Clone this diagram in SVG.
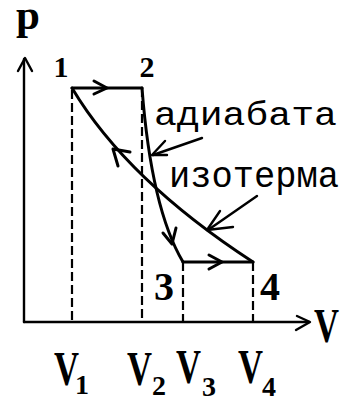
<svg xmlns="http://www.w3.org/2000/svg" width="344" height="401" viewBox="0 0 344 401">
<style>
.ln{fill:none;stroke:#000;stroke-width:2.4;stroke-linecap:round;stroke-linejoin:round}
.th{fill:none;stroke:#000;stroke-width:3;stroke-linecap:round;stroke-linejoin:round}
.ds{fill:none;stroke:#000;stroke-width:2.2;stroke-dasharray:9 4}
.ah{fill:none;stroke:#000;stroke-width:2.4;stroke-linecap:round;stroke-linejoin:round}
.lab{font-family:"Liberation Serif","DejaVu Serif",serif;font-weight:bold;fill:#000}
.ru{font-family:"Liberation Mono","DejaVu Sans Mono",monospace;fill:#000}
</style>
<rect width="344" height="401" fill="#fff"/>
<g id="axes">
  <line class="ln" x1="24" y1="322" x2="24" y2="59"/>
  <polyline class="ah" points="18,71 25,58 32,71"/>
  <line class="ln" x1="24" y1="322" x2="309" y2="322"/>
  <polyline class="ah" points="297,316 310,322 296,330"/>
  <text class="lab" x="16" y="29" font-size="43">p</text>
  <text class="lab" x="314" y="342" font-size="48" textLength="25" lengthAdjust="spacingAndGlyphs">V</text>
</g>
<g id="connectors">
  <line class="ds" x1="72" y1="90" x2="72" y2="322"/>
  <line class="ds" x1="142" y1="88" x2="142" y2="322"/>
  <line class="ds" x1="183" y1="262" x2="183" y2="322"/>
  <line class="ds" x1="253" y1="262" x2="253" y2="322"/>
  <line class="th" x1="72" y1="88" x2="142" y2="88"/>
  <polyline class="th" points="94,81 107,88 94,94"/>
  <line class="th" x1="183" y1="262" x2="253" y2="262"/>
  <polyline class="th" points="209,255 222,262 209,269"/>
  <path id="isotherm" class="th" d="M72,88 C100,135 150,195 253,262"/>
  <polyline class="th" points="130,152 113,149 118,166"/>
  <path id="adiabat" class="th" d="M142,88 C146,140 155,215 183,262"/>
  <polyline class="th" points="163,233 172,244 176,228"/>
  <line class="ln" x1="202" y1="138" x2="153" y2="155"/>
  <polyline class="ah" points="165,141 152,155 167,155"/>
  <line class="ln" x1="257" y1="196" x2="208" y2="230"/>
  <polyline class="ah" points="220,211 207,230 233,227"/>
</g>
<g id="node1"><text class="lab" x="61" y="77" font-size="30" text-anchor="middle">1</text></g>
<g id="node2"><text class="lab" x="147" y="77" font-size="30" text-anchor="middle">2</text></g>
<g id="node3"><text class="lab" x="164" y="300" font-size="40" text-anchor="middle">3</text></g>
<g id="node4"><text class="lab" x="270" y="300" font-size="40" text-anchor="middle">4</text></g>
<g id="label-adiabata"><text class="ru" x="154" y="125" font-size="34" textLength="183" lengthAdjust="spacingAndGlyphs">адиабата</text></g>
<g id="label-izoterma"><text class="ru" x="169" y="187" font-size="36" textLength="170" lengthAdjust="spacingAndGlyphs">изотерма</text></g>
<g id="v-labels">
  <text class="lab" x="54" y="385" font-size="48" textLength="25" lengthAdjust="spacingAndGlyphs">V</text>
  <text class="lab" x="82" y="394" font-size="28" text-anchor="middle">1</text>
  <text class="lab" x="127" y="385" font-size="48" textLength="25" lengthAdjust="spacingAndGlyphs">V</text>
  <text class="lab" x="159" y="395" font-size="28" text-anchor="middle">2</text>
  <text class="lab" x="176" y="383" font-size="48" textLength="25" lengthAdjust="spacingAndGlyphs">V</text>
  <text class="lab" x="209" y="396" font-size="28" text-anchor="middle">3</text>
  <text class="lab" x="238" y="383" font-size="48" textLength="25" lengthAdjust="spacingAndGlyphs">V</text>
  <text class="lab" x="269" y="396" font-size="28" text-anchor="middle">4</text>
</g>
</svg>
